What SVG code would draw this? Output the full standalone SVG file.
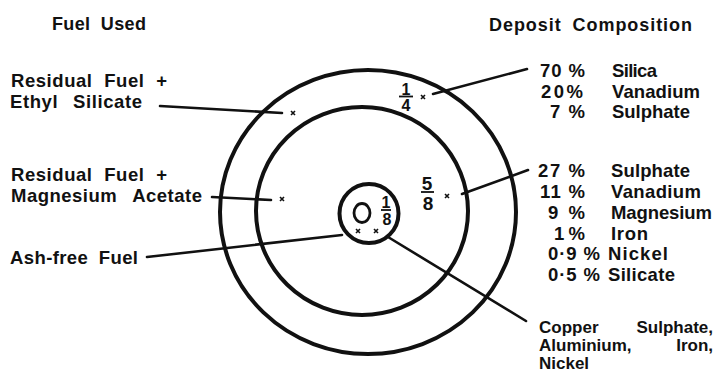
<svg xmlns="http://www.w3.org/2000/svg" width="715" height="375" viewBox="0 0 715 375">
<style>
text{font-family:"Liberation Sans",Arimo,sans-serif;font-weight:700;fill:#111;font-size:18.5px}
.hd{font-size:18px}
.frac{font-size:16px;text-anchor:middle}
.big{font-size:19px}
.cu{font-size:17px}
.ring{fill:none;stroke:#111;stroke-width:4}
.ln{stroke:#111;stroke-width:2.6;fill:none;stroke-linecap:round}
.x{stroke:#111;stroke-width:1.6;fill:none}
.bar{stroke:#111;stroke-width:1.8}
.e{text-anchor:end}
</style>
<rect width="715" height="375" fill="#fff"/>
<g id="headers">
<text class="hd" x="52" y="30" textLength="94" lengthAdjust="spacing" word-spacing="5">Fuel Used</text>
<text class="hd" x="489" y="31" textLength="203" lengthAdjust="spacing" word-spacing="5">Deposit Composition</text>
</g>
<g id="rings">
<ellipse class="ring" cx="368" cy="212" rx="148" ry="142"/>
<ellipse class="ring" cx="362" cy="211" rx="106" ry="104"/>
<circle class="ring" cx="369" cy="213.5" r="29.5" stroke-width="3.6"/>
<ellipse cx="362" cy="213" rx="8" ry="9.5" fill="none" stroke="#111" stroke-width="2.8"/>
</g>
<g id="fractions">
<text class="frac" x="406" y="95">1</text><line class="bar" x1="399" y1="96.5" x2="413" y2="96.5"/><text class="frac" x="406" y="111">4</text>
<text class="frac big" x="427" y="190">5</text><line class="bar" x1="421" y1="192" x2="434" y2="192"/><text class="frac big" x="428" y="210">8</text>
<text class="frac" x="386" y="208">1</text><line class="bar" x1="381" y1="210" x2="391" y2="210"/><text class="frac" x="387" y="225">8</text>
</g>
<g id="marks">
<path class="x" d="M291 111l4 4M295 111l-4 4"/>
<path class="x" d="M280 197l4 4M284 197l-4 4"/>
<path class="x" d="M421 95l4 4M425 95l-4 4"/>
<path class="x" d="M445 194l4 4M449 194l-4 4"/>
<path class="x" d="M356 229l4 4M360 229l-4 4"/>
<path class="x" d="M374 229l4 4M378 229l-4 4"/>
</g>
<g id="connectors">
<line class="ln" x1="160" y1="106" x2="282" y2="113"/>
<line class="ln" x1="212" y1="197" x2="271" y2="200"/>
<line class="ln" x1="147" y1="257" x2="342" y2="235"/>
<line class="ln" x1="433" y1="94" x2="527" y2="69"/>
<line class="ln" x1="462" y1="194" x2="528" y2="170"/>
<line class="ln" x1="388" y1="237" x2="526" y2="321"/>
</g>
<g id="fuel-ethyl">
<text x="11" y="87" textLength="156" lengthAdjust="spacing" word-spacing="6">Residual Fuel +</text>
<text x="10" y="108" textLength="132" lengthAdjust="spacing" word-spacing="9">Ethyl Silicate</text>
</g>
<g id="fuel-magnesium">
<text x="11" y="181" textLength="156" lengthAdjust="spacing" word-spacing="6">Residual Fuel +</text>
<text x="11" y="202" textLength="191" lengthAdjust="spacing" word-spacing="10">Magnesium Acetate</text>
</g>
<g id="fuel-ashfree">
<text x="10" y="264" textLength="128" lengthAdjust="spacing" word-spacing="5">Ash-free Fuel</text>
</g>
<g id="deposit-quarter">
<text x="540" y="77" textLength="45" lengthAdjust="spacing">70 %</text><text x="612" y="77" textLength="45" lengthAdjust="spacing">Silica</text>
<text x="541" y="98" textLength="42" lengthAdjust="spacing">20%</text><text x="612" y="98" textLength="88" lengthAdjust="spacing">Vanadium</text>
<text x="550" y="118" textLength="35" lengthAdjust="spacing">7 %</text><text x="612" y="118" textLength="78" lengthAdjust="spacing">Sulphate</text>
</g>
<g id="deposit-fiveeighths">
<text x="538" y="177" textLength="47" lengthAdjust="spacing">27 %</text><text x="611" y="177" textLength="79" lengthAdjust="spacing">Sulphate</text>
<text x="540" y="198" textLength="45" lengthAdjust="spacing">11 %</text><text x="611" y="198" textLength="90" lengthAdjust="spacing">Vanadium</text>
<text x="548" y="219" textLength="37" lengthAdjust="spacing">9 %</text><text x="611" y="219" textLength="101" lengthAdjust="spacing">Magnesium</text>
<text x="554" y="240" textLength="31" lengthAdjust="spacing">1 %</text><text x="611" y="240" textLength="37" lengthAdjust="spacing">Iron</text>
<text x="548" y="260" textLength="52" lengthAdjust="spacing">0·9 %</text><text x="608" y="260" textLength="60" lengthAdjust="spacing">Nickel</text>
<text x="548" y="281" textLength="52" lengthAdjust="spacing">0·5 %</text><text x="608" y="281" textLength="67" lengthAdjust="spacing">Silicate</text>
</g>
<g id="deposit-centre">
<text class="cu" x="539" y="333">Copper</text><text class="cu e" x="713" y="333">Sulphate,</text>
<text class="cu" x="539" y="351">Aluminium,</text><text class="cu e" x="713" y="351">Iron,</text>
<text class="cu" x="539" y="369">Nickel</text>
</g>
</svg>
